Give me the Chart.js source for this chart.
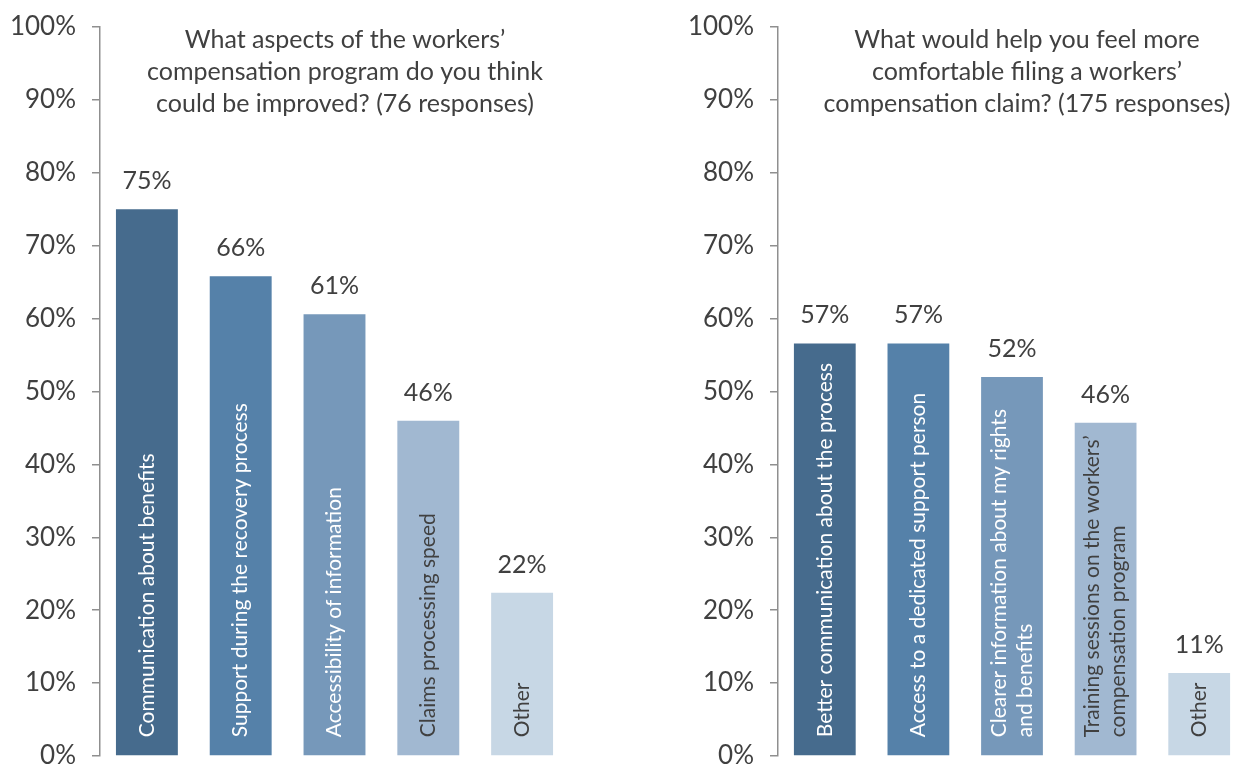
<!DOCTYPE html>
<html>
<head>
<meta charset="utf-8">
<script src="https://cdn.jsdelivr.net/npm/chart.js@4/dist/chart.umd.min.js"></script>
<style>
  html, body { margin: 0; padding: 0; background: #fff; overflow: hidden; width: 1237px; height: 766px; }
  #wrap { position: relative; width: 1237px; height: 766px; overflow: hidden; }
  canvas { position: absolute; top: 0; }
  #c1 { left: 0; }
  #c2 { left: 680px; }
</style>
</head>
<body>
<div id="wrap">
  <canvas id="c1" width="600" height="766"></canvas>
  <canvas id="c2" width="580" height="766"></canvas>
</div>
<script>
// ---- Data ----
const leftTitle = ["What aspects of the workers\u2019", "compensation program do you think", "could be improved? (76 responses)"];
const leftCategories = [
  ["Communication about benefits"],
  ["Support during the recovery process"],
  ["Accessibility of information"],
  ["Claims processing speed"],
  ["Other"]
];
const leftValues = [75, 65.8, 60.6, 46, 22.4];

const rightTitle = ["What would help you feel more", "comfortable filing a workers\u2019", "compensation claim? (175 responses)"];
const rightCategories = [
  ["Better communication about the process"],
  ["Access to a dedicated support person"],
  ["Clearer information about my rights", "and benefits"],
  ["Training sessions on the workers\u2019", "compensation program"],
  ["Other"]
];
const rightValues = [56.6, 56.6, 52, 45.7, 11.4];

const barColors = ["#466b8d", "#5581a9", "#7698ba", "#a1b8d1", "#c7d7e5"];
const labelColors = ["#ffffff", "#ffffff", "#ffffff", "#404040", "#404040"];
const yTicks = { min: 0, max: 100, step: 10 };

const FONT = "Lato, 'Open Sans', sans-serif";
const TEXT = "#404040";

const annotatePlugin = {
  id: "annotate",
  afterDatasetsDraw(chart, args, opts) {
    const ctx = chart.ctx;
    const meta = chart.getDatasetMeta(0);
    const values = chart.data.datasets[0].data;
    const cats = chart.data.labels;
    ctx.save();
    meta.data.forEach((bar, i) => {
      // value labels above bars
      ctx.font = "25px " + FONT;
      ctx.fillStyle = TEXT;
      ctx.textAlign = "center";
      ctx.textBaseline = "middle";
      ctx.fillText(Math.round(values[i]) + "%", bar.x, bar.y - 28);
      // rotated category labels inside bars
      const lines = cats[i];
      const lh = 26;
      ctx.save();
      ctx.translate(bar.x, bar.base - 18);
      ctx.rotate(-Math.PI / 2);
      ctx.font = "21px " + FONT;
      ctx.fillStyle = labelColors[i];
      ctx.textAlign = "left";
      ctx.textBaseline = "middle";
      const n = lines.length;
      lines.forEach((ln, k) => {
        const off = (k - (n - 1) / 2) * lh;
        ctx.fillText(ln, 0, off);
      });
      ctx.restore();
    });
    // title
    ctx.font = "25px " + FONT;
    ctx.fillStyle = TEXT;
    ctx.textAlign = "center";
    ctx.textBaseline = "middle";
    opts.lines.forEach((t, k) => {
      ctx.fillText(t, opts.x, 40 + k * 32);
    });
    ctx.restore();
  }
};

function makeChart(id, cats, vals, title, titleX, axisWidth, padRight) {
  return new Chart(document.getElementById(id), {
    type: "bar",
    data: {
      labels: cats,
      datasets: [{
        data: vals,
        backgroundColor: barColors,
        borderWidth: 0,
        barPercentage: 0.66,
        categoryPercentage: 1.0
      }]
    },
    options: {
      responsive: false,
      animation: false,
      layout: { padding: { top: 27, bottom: 10, left: 0, right: padRight } },
      plugins: {
        legend: { display: false },
        tooltip: { enabled: false },
        title: { display: false },
        annotate: { lines: title, x: titleX }
      },
      scales: {
        x: { display: false },
        y: {
          min: yTicks.min,
          max: yTicks.max,
          afterFit(scale) {
            scale.width = axisWidth;
            scale.paddingTop = 0;
            scale.paddingBottom = 0;
          },
          ticks: {
            stepSize: yTicks.step,
            padding: 16,
            color: TEXT,
            font: { family: FONT, size: 26 },
            callback: v => v + "%"
          },
          grid: {
            drawOnChartArea: false,
            drawTicks: true,
            tickLength: 8,
            color: "#8f8f8f",
            lineWidth: 1.5
          },
          border: { display: true, color: "#8f8f8f", width: 1.5 }
        }
      }
    },
    plugins: [annotatePlugin]
  });
}

makeChart("c1", leftCategories, leftValues, leftTitle, 345, 100, 31);
makeChart("c2", rightCategories, rightValues, rightTitle, 347, 98, 14);
</script>
</body>
</html>
